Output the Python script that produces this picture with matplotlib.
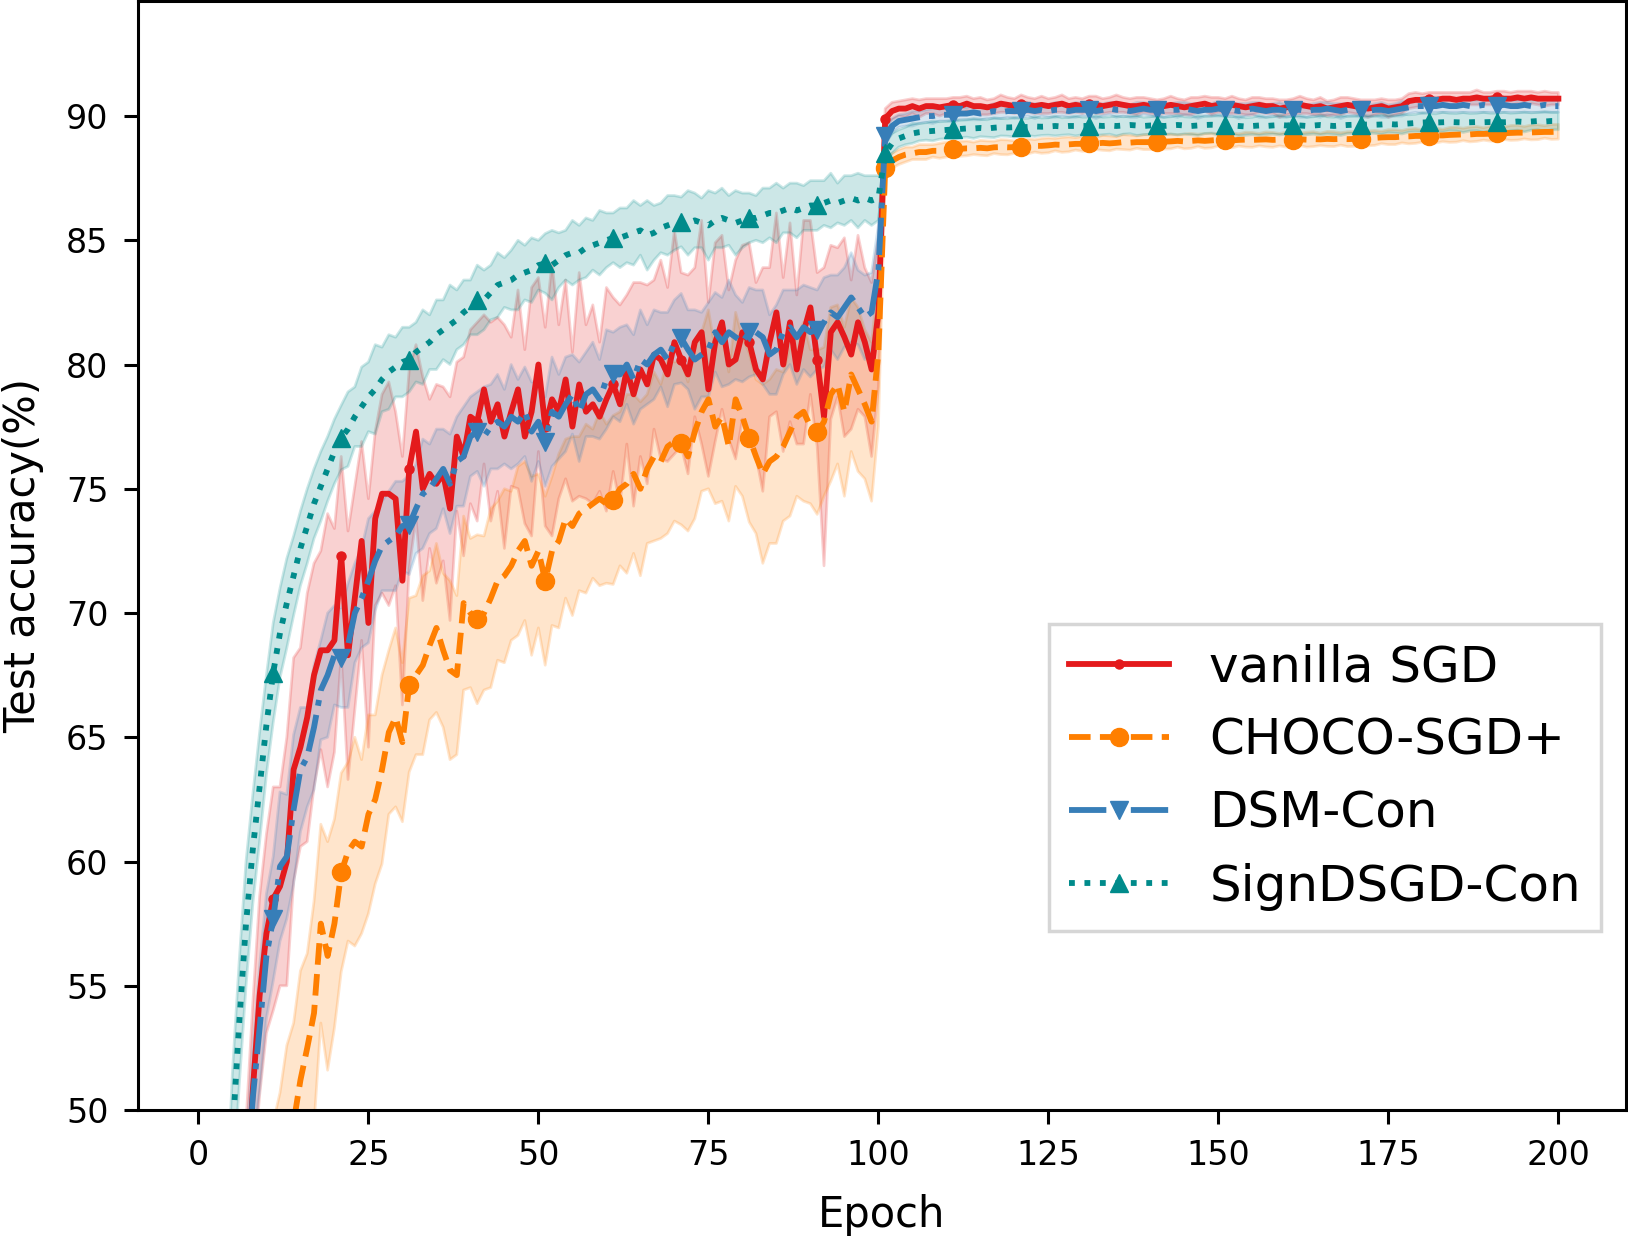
import numpy as np
import matplotlib
matplotlib.use("Agg")
import matplotlib.pyplot as plt

# epochs 1..200
epochs = np.arange(1, 201)

# ---- mean test accuracy (%) ----
sgd_mean = [
    12, 20, 27, 33, 38, 42, 46, 50.8, 54.6, 57.1,
    58.5, 59.0, 60.0, 63.7, 64.6, 65.8, 67.5, 68.5, 68.5, 68.9,
    72.3, 68.3, 70.6, 72.9, 69.6, 73.8, 74.8, 74.8, 74.6, 71.3,
    75.8, 77.3, 75.0, 75.6, 75.2, 75.6, 74.2, 77.1, 76.3, 77.9,
    77.7, 79.0, 77.7, 78.4, 77.1, 78.1, 79.0, 77.1, 78.1, 80.0,
    77.5, 78.6, 78.1, 79.4, 77.5, 79.2, 78.1, 78.4, 77.9, 78.6,
    79.2, 78.4, 79.8, 78.8, 79.8, 79.2, 80.4, 80.2, 79.6, 80.9,
    80.2, 79.6, 80.9, 81.3, 79.0, 80.9, 81.7, 80.0, 80.2, 81.3,
    80.9, 79.8, 79.4, 80.9, 82.1, 80.0, 81.7, 79.8, 81.3, 82.3,
    80.2, 77.9, 81.3, 81.7, 81.1, 80.4, 81.7, 80.9, 79.8, 82.1,
    89.9, 90.2, 90.3, 90.3, 90.4, 90.3, 90.4, 90.4, 90.35, 90.4,
    90.45, 90.4, 90.5, 90.4, 90.4, 90.35, 90.4, 90.5, 90.45, 90.4,
    90.5, 90.45, 90.4, 90.45, 90.4, 90.45, 90.5, 90.4, 90.45, 90.4,
    90.5, 90.45, 90.4, 90.45, 90.5, 90.45, 90.4, 90.4, 90.45, 90.4,
    90.35, 90.4, 90.45, 90.4, 90.35, 90.4, 90.45, 90.5, 90.4, 90.45,
    90.4, 90.45, 90.4, 90.35, 90.4, 90.45, 90.4, 90.4, 90.3, 90.35,
    90.4, 90.45, 90.4, 90.35, 90.4, 90.3, 90.35, 90.4, 90.45, 90.4,
    90.35, 90.3, 90.35, 90.4, 90.3, 90.35, 90.4, 90.6, 90.65, 90.65,
    90.7, 90.65, 90.7, 90.7, 90.65, 90.7, 90.7, 90.75, 90.7, 90.7,
    90.75, 90.7, 90.7, 90.75, 90.7, 90.75, 90.7, 90.7, 90.7, 90.7,
]
choco_mean = [
    10, 16, 22, 27, 31, 34, 37, 39.5, 41.5, 43.5,
    45, 46.5, 48, 49.5, 51.2, 52.5, 53.9, 57.5, 56.2, 57.5,
    59.56, 60.4, 60.8, 60.6, 61.9, 62.5, 63.7, 65.2, 65.8, 64.8,
    67.1, 67.5, 67.9, 68.7, 69.4, 68.5, 67.7, 67.5, 70.4, 70.0,
    69.75, 70.0, 70.6, 71.3, 71.5, 71.9, 72.5, 72.9, 71.9, 72.5,
    71.3, 72.5, 72.9, 73.8, 73.5, 74.0, 74.2, 74.4, 74.6, 74.4,
    74.55, 75.0, 75.2, 75.6, 75.0, 75.8, 76.3, 76.1, 76.7, 76.9,
    76.85, 76.3, 77.3, 78.1, 78.6, 77.5, 77.9, 76.7, 78.6, 77.9,
    77.06, 76.3, 75.6, 76.1, 76.3, 76.7, 77.3, 77.9, 78.1, 77.5,
    77.27, 77.7, 78.8, 79.2, 78.1, 79.6, 79.0, 78.4, 77.7, 80.5,
    87.9, 88.2, 88.35, 88.45, 88.5, 88.55, 88.55, 88.6, 88.6, 88.65,
    88.66, 88.68, 88.7, 88.7, 88.72, 88.7, 88.74, 88.75, 88.74, 88.75,
    88.75, 88.78, 88.8, 88.8, 88.82, 88.85, 88.84, 88.86, 88.88, 88.88,
    88.9, 88.9, 88.92, 88.9, 88.92, 88.95, 88.93, 88.95, 88.95, 88.95,
    88.95, 88.97, 88.98, 89.0, 88.98, 89.0, 89.02, 89.0, 89.02, 89.04,
    89.04, 89.02, 89.04, 89.05, 89.04, 89.05, 89.06, 89.04, 89.05, 89.05,
    89.05, 89.06, 89.05, 89.07, 89.06, 89.08, 89.07, 89.08, 89.07, 89.08,
    89.08, 89.1, 89.12, 89.14, 89.15, 89.15, 89.17, 89.18, 89.2, 89.2,
    89.2, 89.22, 89.22, 89.24, 89.25, 89.26, 89.26, 89.28, 89.28, 89.29,
    89.3, 89.31, 89.32, 89.33, 89.33, 89.34, 89.35, 89.36, 89.36, 89.37,
]
dsm_mean = [
    12, 20, 27, 33, 38, 42, 46.5, 50.5, 53.3, 56.2,
    57.7, 59.8, 60.2, 62.1, 63.7, 64.2, 65.4, 66.9, 67.5, 68.3,
    68.2, 68.7, 70.0, 70.6, 71.3, 72.1, 72.7, 72.9, 73.1, 73.5,
    73.55, 74.2, 74.8, 75.0, 75.4, 75.8, 75.2, 76.1, 76.3, 77.1,
    77.3, 77.1, 77.5, 77.7, 77.5, 77.9, 77.7, 78.1, 77.3, 77.7,
    76.9, 78.1, 77.9, 78.4, 78.8, 78.1, 78.8, 79.0, 78.6, 79.4,
    79.6, 79.6, 80.0, 79.4, 80.2, 80.0, 80.4, 80.6, 80.2, 80.9,
    81.06, 80.6, 80.2, 80.4, 80.6, 81.3, 80.9, 81.3, 81.1, 80.9,
    81.3, 81.3, 81.1, 80.4, 80.6, 81.3, 81.5, 81.1, 81.5, 81.3,
    81.4, 81.7, 82.1, 81.9, 82.3, 82.7, 82.3, 81.9, 82.1, 83.8,
    89.2, 89.6, 89.8, 89.85, 89.9, 89.95, 90.0, 90.0, 90.05, 90.05,
    90.05, 90.1, 90.1, 90.15, 90.1, 90.15, 90.2, 90.15, 90.2, 90.2,
    90.2, 90.25, 90.2, 90.25, 90.2, 90.25, 90.25, 90.2, 90.25, 90.25,
    90.25, 90.2, 90.25, 90.3, 90.25, 90.25, 90.2, 90.25, 90.3, 90.25,
    90.25, 90.2, 90.25, 90.25, 90.3, 90.25, 90.2, 90.25, 90.25, 90.3,
    90.25, 90.25, 90.2, 90.25, 90.3, 90.25, 90.2, 90.25, 90.25, 90.2,
    90.25, 90.25, 90.2, 90.25, 90.25, 90.3, 90.25, 90.2, 90.25, 90.25,
    90.25, 90.2, 90.25, 90.25, 90.2, 90.25, 90.3, 90.35, 90.4, 90.4,
    90.4, 90.4, 90.45, 90.4, 90.4, 90.45, 90.4, 90.4, 90.45, 90.4,
    90.4, 90.45, 90.4, 90.4, 90.45, 90.4, 90.4, 90.45, 90.4, 90.4,
]
sign_mean = [
    20, 28, 36, 43, 49, 53.5, 57.5, 60.5, 63, 65.5,
    67.6, 69.2, 70.4, 71.5, 72.6, 73.5, 74.4, 75.1, 75.8, 76.5,
    77.06, 77.4, 77.9, 78.3, 78.7, 79.0, 79.4, 79.7, 79.9, 80.1,
    80.2, 80.5, 80.7, 80.9, 81.2, 81.4, 81.6, 81.8, 82.1, 82.3,
    82.6, 82.6, 82.9, 83.2, 83.3, 83.4, 83.6, 83.7, 83.8, 84.0,
    84.07, 84.0, 84.2, 84.4, 84.5, 84.5, 84.7, 84.8, 84.9, 85.0,
    85.1, 85.1, 85.2, 85.3, 85.4, 85.2, 85.3, 85.5, 85.6, 85.7,
    85.74, 85.7, 85.8, 85.7, 85.6, 85.8, 85.9, 85.8, 85.7, 85.8,
    85.9, 85.9, 86.0, 86.1, 86.1, 86.2, 86.3, 86.2, 86.3, 86.4,
    86.4, 86.5, 86.6, 86.5, 86.6, 86.7, 86.6, 86.7, 86.6, 86.7,
    88.5, 88.9, 89.1, 89.2, 89.3, 89.35, 89.38, 89.4, 89.42, 89.44,
    89.46, 89.48, 89.5, 89.5, 89.52, 89.5, 89.53, 89.55, 89.54, 89.55,
    89.55, 89.56, 89.58, 89.57, 89.58, 89.6, 89.58, 89.6, 89.6, 89.6,
    89.6, 89.62, 89.6, 89.62, 89.6, 89.62, 89.64, 89.62, 89.6, 89.62,
    89.62, 89.6, 89.62, 89.64, 89.62, 89.6, 89.62, 89.64, 89.65, 89.64,
    89.64, 89.62, 89.6, 89.58, 89.6, 89.62, 89.6, 89.62, 89.64, 89.62,
    89.64, 89.62, 89.6, 89.62, 89.64, 89.62, 89.6, 89.62, 89.64, 89.65,
    89.65, 89.66, 89.65, 89.66, 89.68, 89.66, 89.68, 89.7, 89.72, 89.74,
    89.75, 89.74, 89.75, 89.76, 89.75, 89.74, 89.75, 89.76, 89.75, 89.76,
    89.76, 89.75, 89.76, 89.78, 89.76, 89.78, 89.8, 89.78, 89.8, 89.8,
]

# ---- spread (std over runs) ----
sgd_std = [
    3.0, 3.0, 3.0, 3.0, 3.0, 3.0, 3.5, 3.5, 4.0, 4.0,
    4.5, 4.0, 5.0, 4.5, 4.0, 5.0, 4.5, 4.0, 5.5, 4.5,
    4.0, 5.0, 4.5, 4.0, 5.0, 3.5, 4.0, 4.5, 3.5, 5.0,
    4.0, 3.5, 4.5, 3.0, 4.0, 3.5, 4.5, 3.0, 4.0, 3.5,
    4.0, 3.0, 4.0, 3.5, 4.5, 3.0, 4.0, 3.5, 5.0, 3.5,
    4.0, 5.5, 3.5, 4.0, 3.0, 4.5, 3.5, 4.0, 3.0, 4.5,
    3.5, 4.0, 3.0, 4.5, 3.5, 4.0, 3.0, 4.0, 3.5, 4.5,
    3.5, 4.0, 3.0, 4.5, 3.5, 4.0, 3.5, 3.0, 4.0, 3.5,
    4.0, 3.5, 4.5, 3.0, 4.0, 3.5, 4.0, 3.0, 4.5, 3.5,
    3.5, 6.0, 3.5, 3.0, 4.0, 3.0, 3.5, 3.0, 3.5, 3.0,
    0.40, 0.35, 0.30, 0.35, 0.30, 0.35, 0.30, 0.30, 0.35, 0.30,
    0.30, 0.35, 0.30, 0.30, 0.35, 0.30, 0.30, 0.35, 0.30, 0.30,
    0.35, 0.30, 0.30, 0.35, 0.30, 0.30, 0.35, 0.30, 0.30, 0.30,
    0.30, 0.35, 0.30, 0.30, 0.35, 0.30, 0.30, 0.35, 0.30, 0.30,
    0.30, 0.30, 0.35, 0.30, 0.30, 0.35, 0.30, 0.30, 0.35, 0.30,
    0.30, 0.35, 0.30, 0.30, 0.35, 0.30, 0.30, 0.30, 0.35, 0.30,
    0.30, 0.35, 0.30, 0.30, 0.35, 0.30, 0.30, 0.35, 0.30, 0.30,
    0.30, 0.35, 0.30, 0.30, 0.35, 0.30, 0.30, 0.30, 0.30, 0.25,
    0.25, 0.30, 0.25, 0.25, 0.30, 0.25, 0.25, 0.30, 0.25, 0.25,
    0.25, 0.30, 0.25, 0.25, 0.30, 0.25, 0.25, 0.30, 0.25, 0.25,
]
choco_std = [
    4.0, 4.2, 4.0, 4.3, 4.1, 4.4, 4.2, 4.5, 4.3, 4.5,
    4.5, 4.2, 4.6, 4.0, 4.4, 3.8, 4.5, 4.0, 4.6, 4.2,
    4.0, 3.6, 4.2, 3.5, 4.0, 3.4, 3.8, 3.3, 3.6, 3.2,
    3.5, 3.2, 3.6, 3.0, 3.4, 3.1, 3.6, 3.2, 3.5, 3.0,
    3.4, 3.1, 3.6, 3.2, 3.5, 3.0, 3.4, 3.2, 3.6, 3.1,
    3.4, 3.0, 3.5, 3.2, 3.6, 3.1, 3.4, 3.0, 3.5, 3.2,
    3.4, 3.1, 3.6, 3.2, 3.5, 3.0, 3.4, 3.1, 3.5, 3.2,
    3.3, 3.0, 3.5, 3.2, 3.6, 3.1, 3.4, 3.0, 3.5, 3.2,
    3.4, 3.1, 3.6, 3.3, 3.5, 3.0, 3.4, 3.2, 3.6, 3.1,
    3.3, 3.0, 3.5, 3.2, 3.4, 3.1, 3.3, 3.0, 3.2, 3.0,
    0.35, 0.30, 0.30, 0.30, 0.25, 0.30, 0.30, 0.25, 0.30, 0.30,
    0.25, 0.30, 0.30, 0.25, 0.30, 0.30, 0.25, 0.30, 0.30, 0.25,
    0.30, 0.30, 0.25, 0.30, 0.30, 0.25, 0.30, 0.30, 0.25, 0.30,
    0.30, 0.25, 0.30, 0.30, 0.25, 0.30, 0.30, 0.25, 0.30, 0.30,
    0.25, 0.30, 0.30, 0.25, 0.30, 0.30, 0.25, 0.30, 0.30, 0.25,
    0.30, 0.30, 0.25, 0.30, 0.30, 0.25, 0.30, 0.30, 0.25, 0.30,
    0.30, 0.25, 0.30, 0.30, 0.25, 0.30, 0.30, 0.25, 0.30, 0.30,
    0.25, 0.30, 0.30, 0.25, 0.30, 0.30, 0.25, 0.30, 0.30, 0.25,
    0.30, 0.30, 0.25, 0.30, 0.30, 0.25, 0.30, 0.30, 0.25, 0.30,
    0.30, 0.25, 0.30, 0.30, 0.25, 0.30, 0.30, 0.25, 0.30, 0.30,
]
dsm_std = [
    2.0, 2.0, 2.0, 2.0, 2.0, 2.0, 2.0, 2.0, 2.5, 2.5,
    2.5, 3.0, 2.5, 3.0, 2.5, 2.0, 2.5, 2.0, 2.5, 2.0,
    2.0, 2.5, 2.0, 2.0, 2.5, 2.0, 1.8, 2.0, 2.2, 1.8,
    2.0, 1.8, 2.2, 1.8, 2.0, 1.6, 2.0, 1.8, 2.0, 1.6,
    1.6, 2.0, 1.7, 1.9, 1.5, 2.1, 1.7, 1.8, 2.0, 1.6,
    1.8, 2.2, 1.7, 1.9, 1.6, 2.0, 1.7, 1.9, 1.6, 2.0,
    1.7, 1.9, 1.6, 1.8, 2.0, 1.6, 1.8, 1.5, 1.9, 1.7,
    1.8, 1.6, 2.0, 1.7, 1.9, 1.6, 1.8, 2.1, 1.7, 1.6,
    1.8, 1.7, 1.9, 1.6, 1.8, 1.7, 1.5, 1.9, 1.7, 1.8,
    1.6, 1.8, 1.5, 1.7, 1.6, 1.8, 1.5, 1.7, 1.6, 1.8,
    0.35, 0.30, 0.25, 0.25, 0.30, 0.25, 0.25, 0.30, 0.25, 0.25,
    0.30, 0.25, 0.25, 0.30, 0.25, 0.25, 0.30, 0.25, 0.25, 0.30,
    0.25, 0.25, 0.30, 0.25, 0.25, 0.30, 0.25, 0.25, 0.30, 0.25,
    0.25, 0.30, 0.25, 0.25, 0.30, 0.25, 0.25, 0.30, 0.25, 0.25,
    0.30, 0.25, 0.25, 0.30, 0.25, 0.25, 0.30, 0.25, 0.25, 0.30,
    0.25, 0.25, 0.30, 0.25, 0.25, 0.30, 0.25, 0.25, 0.30, 0.25,
    0.25, 0.30, 0.25, 0.25, 0.30, 0.25, 0.25, 0.30, 0.25, 0.25,
    0.30, 0.25, 0.25, 0.30, 0.25, 0.25, 0.30, 0.25, 0.25, 0.30,
    0.25, 0.25, 0.30, 0.25, 0.25, 0.30, 0.25, 0.25, 0.30, 0.25,
    0.25, 0.30, 0.25, 0.25, 0.30, 0.25, 0.25, 0.30, 0.25, 0.25,
]
sign_std = [
    2.5, 2.5, 2.5, 2.5, 2.5, 2.5, 2.5, 2.2, 2.2, 2.0,
    2.0, 1.8, 1.8, 1.6, 1.5, 1.5, 1.4, 1.4, 1.3, 1.3,
    1.3, 1.5, 1.2, 1.6, 1.4, 1.8, 1.3, 1.5, 1.2, 1.4,
    1.3, 1.2, 1.5, 1.1, 1.4, 1.2, 1.6, 1.2, 1.3, 1.1,
    1.4, 1.2, 1.1, 1.3, 1.0, 1.2, 1.4, 1.1, 1.3, 1.0,
    1.2, 1.4, 1.1, 1.0, 1.3, 1.1, 1.2, 1.0, 1.3, 1.1,
    1.0, 1.2, 1.1, 1.3, 1.0, 1.4, 1.1, 1.0, 1.2, 1.1,
    1.0, 1.3, 1.1, 1.0, 1.4, 1.1, 1.2, 1.0, 1.3, 1.1,
    1.0, 0.9, 1.1, 1.0, 1.2, 0.9, 1.0, 1.1, 0.9, 1.0,
    1.0, 0.9, 1.1, 0.8, 1.0, 0.9, 1.1, 0.9, 1.0, 0.9,
    0.45, 0.40, 0.35, 0.35, 0.40, 0.35, 0.35, 0.40, 0.35, 0.35,
    0.40, 0.35, 0.35, 0.40, 0.35, 0.35, 0.40, 0.35, 0.35, 0.40,
    0.35, 0.35, 0.40, 0.35, 0.35, 0.40, 0.35, 0.35, 0.40, 0.35,
    0.35, 0.40, 0.35, 0.35, 0.40, 0.35, 0.35, 0.40, 0.35, 0.35,
    0.40, 0.35, 0.35, 0.40, 0.35, 0.35, 0.40, 0.35, 0.35, 0.40,
    0.35, 0.35, 0.40, 0.35, 0.35, 0.40, 0.35, 0.35, 0.40, 0.35,
    0.35, 0.40, 0.35, 0.35, 0.40, 0.35, 0.35, 0.40, 0.35, 0.35,
    0.40, 0.35, 0.35, 0.40, 0.35, 0.35, 0.40, 0.35, 0.35, 0.40,
    0.35, 0.35, 0.40, 0.35, 0.35, 0.40, 0.35, 0.35, 0.40, 0.35,
    0.35, 0.40, 0.35, 0.35, 0.40, 0.35, 0.35, 0.40, 0.35, 0.35,
]

labels = ['vanilla SGD', 'CHOCO-SGD+', 'DSM-Con', 'SignDSGD-Con']
colors = ['#e41a1c', '#ff7f00', '#377eb8', '#008b8b']
styles = ['-', '--', '-.', ':']
markers = ['.', 'o', 'v', '^']
means = [sgd_mean, choco_mean, dsm_mean, sign_mean]
stds = [sgd_std, choco_std, dsm_std, sign_std]

fig = plt.figure(figsize=(16.28, 12.38), dpi=100)
ax = fig.add_axes([0.0845, 0.1034, 0.9143, 0.8958])

for m, s, c, ls, mk, lab in zip(means, stds, colors, styles, markers, labels):
    m = np.array(m)
    s = np.array(s)
    ax.fill_between(epochs, m - s, m + s, color=c, alpha=0.2, linewidth=2)
    ax.plot(epochs, m, color=c, linestyle=ls, marker=mk, markevery=10,
            linewidth=4.2, markersize=13, label=lab)

ax.set_ylim(50, 94.63)
ax.set_xlabel('Epoch', fontsize=30, labelpad=16)
ax.set_ylabel('Test accuracy(%)', fontsize=30, labelpad=16)
ax.tick_params(labelsize=24, width=2.2, length=10, pad=11)
for sp in ax.spines.values():
    sp.set_linewidth(2.2)

leg = ax.legend(fontsize=36, loc='center right', bbox_to_anchor=(1.0, 0.30),
                fancybox=False, borderaxespad=0.5)
leg.get_frame().set_linewidth(2.5)

fig.savefig('out.png', dpi=100)
